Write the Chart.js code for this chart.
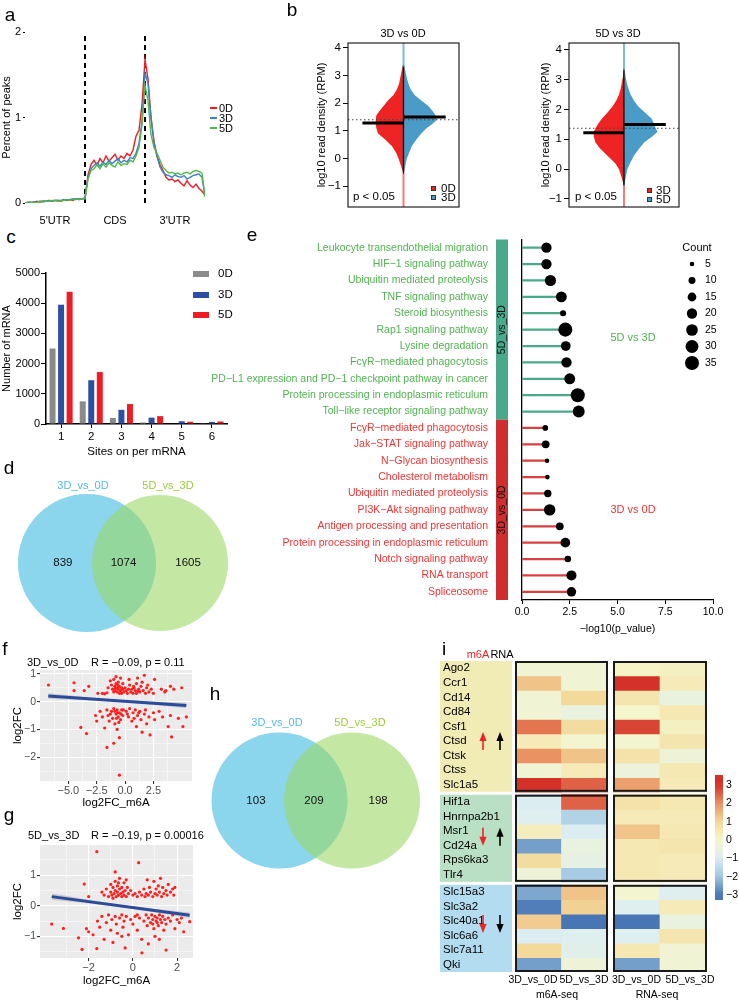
<!DOCTYPE html>
<html><head><meta charset="utf-8">
<script src="https://cdn.jsdelivr.net/npm/chart.js@4.4.1/dist/chart.umd.min.js"></script>
<style>
html,body{margin:0;padding:0;background:#fff;}
#root{position:relative;width:739px;height:1000px;overflow:hidden;font-family:"Liberation Sans",Arial,sans-serif;}
#root canvas{position:absolute;}
.t{position:absolute;white-space:nowrap;line-height:1;}
.sw{position:absolute;}
</style></head><body><div id="root"></div>
<script>
// ================= DATA =================
const regionLabels = ["5'UTR", 'CDS', "3'UTR"];
const aYTicks = [0, 1, 2];
const peak0D = [0.00,0.01,0.00,0.01,0.02,0.01,0.02,0.02,0.03,0.02,0.03,0.03,0.02,0.04,0.03,0.04,0.03,0.05,0.04,0.05,0.05,
  0.33,0.45,0.50,0.44,0.52,0.47,0.55,0.49,0.53,0.57,0.50,0.55,0.52,0.58,0.55,0.62,0.78,0.85,1.15,
  1.68,1.45,1.00,0.72,0.55,0.45,0.38,0.30,0.27,0.28,0.25,0.27,0.23,0.20,0.26,0.21,0.18,0.22,0.17,0.14,0.09];
const peak3D = [0.00,0.00,0.01,0.01,0.01,0.02,0.02,0.02,0.03,0.02,0.03,0.03,0.03,0.04,0.04,0.04,0.05,0.04,0.05,0.05,0.06,
  0.30,0.40,0.44,0.47,0.43,0.48,0.45,0.50,0.46,0.49,0.52,0.47,0.50,0.48,0.53,0.52,0.58,0.70,0.95,
  1.52,1.40,1.00,0.70,0.55,0.42,0.36,0.33,0.32,0.30,0.33,0.31,0.30,0.32,0.28,0.30,0.32,0.33,0.34,0.30,0.08];
const peak5D = [0.00,0.01,0.01,0.00,0.01,0.02,0.01,0.02,0.02,0.03,0.03,0.02,0.03,0.03,0.04,0.03,0.04,0.05,0.04,0.05,0.05,
  0.28,0.38,0.40,0.45,0.40,0.46,0.42,0.47,0.44,0.42,0.48,0.44,0.46,0.45,0.50,0.48,0.55,0.65,0.92,
  1.38,1.20,0.80,0.65,0.58,0.50,0.42,0.38,0.35,0.36,0.34,0.35,0.33,0.35,0.36,0.34,0.37,0.38,0.37,0.35,0.07];

const violinY = [-0.6,-0.3,0,0.2,0.45,0.7,0.9,1.1,1.25,1.4,1.55,1.7,1.9,2.1,2.3,2.5,2.7,2.9,3.1,3.4];
const v1_0D = [0,0.04,0.09,0.13,0.21,0.34,0.46,0.49,0.5,0.5,0.49,0.44,0.36,0.28,0.18,0.12,0.08,0.06,0.04,0.01];
const v1_3D = [0,0.03,0.06,0.1,0.15,0.24,0.32,0.42,0.52,0.6,0.58,0.53,0.45,0.32,0.2,0.13,0.09,0.06,0.04,0.01];
const v2_3D = [0,0.04,0.09,0.16,0.3,0.44,0.52,0.55,0.55,0.51,0.46,0.4,0.3,0.21,0.14,0.09,0.06,0.04,0.02,0.01];
const v2_5D = [0,0.03,0.06,0.11,0.18,0.28,0.37,0.52,0.61,0.57,0.54,0.5,0.38,0.26,0.18,0.12,0.08,0.05,0.03,0.01];
const bMedians1 = [1.28, 1.5];
const bMedians2 = [1.22, 1.5];
const bOverall = [1.4, 1.37];
const bYTicks = [-1, 0, 1, 2, 3, 4];

const siteLabels = ['1','2','3','4','5','6'];
const c0D = [2500, 750, 200, 50, 15, 10];
const c3D = [3950, 1450, 470, 210, 90, 70];
const c5D = [4380, 1720, 660, 260, 75, 85];

const dCounts = [839, 1074, 1605];
const hCounts = [103, 209, 198];
const vennSets = ['3D_vs_0D', '5D_vs_3D'];

const ePathways = ['Leukocyte transendothelial migration','HIF\u22121 signaling pathway','Ubiquitin mediated proteolysis','TNF signaling pathway','Steroid biosynthesis','Rap1 signaling pathway','Lysine degradation','Fc\u03b3R\u2212mediated phagocytosis','PD\u2212L1 expression and PD\u22121 checkpoint pathway in cancer','Protein processing in endoplasmic reticulum','Toll\u2212like receptor signaling pathway',
 'Fc\u03b3R\u2212mediated phagocytosis','Jak\u2212STAT signaling pathway','N\u2212Glycan biosynthesis','Cholesterol metabolism','Ubiquitin mediated proteolysis','PI3K\u2212Akt signaling pathway','Antigen processing and presentation','Protein processing in endoplasmic reticulum','Notch signaling pathway','RNA transport','Spliceosome'];
const ePval = [1.28,1.28,1.49,2.06,2.15,2.27,2.29,2.33,2.5,2.92,2.97, 1.22,1.24,1.31,1.33,1.35,1.45,1.98,2.27,2.4,2.59,2.59];
const eCount = [20,20,23,22,8,35,18,20,22,35,26, 7,12,5,5,11,24,12,18,9,19,17];
const eGroupSizes = [11, 11];
const eGroupTags = ['5D_vs_3D', '3D_vs_0D'];
const eGroupNames = ['5D vs 3D', '3D vs 0D'];
const eXTicks = [0, 2.5, 5, 7.5, 10];
const countLevels = [5, 10, 15, 20, 25, 30, 35];

const fPoints = [[-6.75,0.6],[-4.5,0.68],[-4.5,0.4],[-3.6,0.4],[-3.2,0.55],[-2.4,0.3],[-2.0,0.3],[-1.8,0.28],[-1.6,0.32],[-1.5,0.5],[-1.3,0.75],[-1.2,0.6],[-1.1,0.45],[-1.0,0.8],[-1.0,0.35],[-0.9,0.55],[-0.9,0.4],[-0.85,0.48],[-0.8,0.9],[-0.8,0.65],[-0.7,0.5],[-0.7,0.35],[-0.65,0.6],[-0.6,0.45],[-0.6,0.7],[-0.5,0.3],[-0.5,0.55],[-0.45,0.42],[-0.4,0.4],[-0.4,0.85],[-0.3,0.5],[-0.3,0.3],[-0.2,0.45],[-0.2,0.65],[-0.1,0.35],[0,0.5],[0.1,0.4],[0.2,0.3],[0.3,0.45],[0.35,0.8],[0.4,0.6],[0.5,0.35],[0.6,0.45],[0.7,0.3],[0.75,0.55],[0.8,0.5],[0.9,0.4],[1.0,0.65],[1.0,0.3],[1.1,0.85],[1.15,0.38],[1.2,0.45],[1.3,0.35],[1.4,0.55],[1.5,0.7],[1.6,0.4],[1.7,0.95],[1.8,0.3],[1.9,0.5],[2.0,0.6],[2.1,0.35],[2.3,0.45],[2.5,0.3],[2.6,0.8],[3.2,0.45],[3.5,0.35],[3.6,0.4],[4.0,0.55],[4.3,0.45],[5.0,0.5],
 [-2.6,-0.5],[-2.5,-0.7],[-2.2,-0.35],[-2.0,-0.55],[-1.8,-0.95],[-1.6,-0.3],[-1.5,-0.5],[-1.4,-0.7],[-1.2,-0.35],[-1.1,-0.6],[-1.0,-0.25],[-0.9,-0.8],[-0.8,-0.45],[-0.7,-0.3],[-0.7,-1.0],[-0.6,-0.55],[-0.5,-0.4],[-0.5,-1.3],[-0.4,-0.65],[-0.3,-0.3],[-0.2,-0.5],[0.1,-0.35],[0.3,-0.55],[0.4,-0.25],[0.6,-0.7],[0.7,-0.4],[0.9,-0.3],[1.0,-0.9],[1.1,-0.5],[1.3,-0.35],[1.4,-0.65],[1.5,-1.1],[1.7,-0.45],[1.8,-0.3],[1.9,-0.8],[2.1,-0.55],[2.2,-1.2],[2.5,-0.4],[2.6,-0.65],[3.0,-0.35],[3.3,-0.55],[3.8,-0.9],[4.0,-0.5],[4.7,-0.6],[5.1,-0.9],[5.4,-0.55],[4.1,-1.27],[-3.9,-0.93],[-3.4,-1.15],[-1.6,-1.65],[-1.0,-1.5],[-0.5,-2.65],[-0.9,-0.35],[-0.75,-0.6],[-0.55,-0.75],[-0.35,-0.45],[-0.15,-0.3],[-1.3,-0.45],[-0.65,-0.4],[0.2,-0.45],[0.8,-0.6],[1.2,-0.4]];
const fFitX = [-6.77, -0.7, 5.4];
const fFitY = [0.2, 0.03, -0.14];
const fBand = [0.1, 0.035, 0.1];
const fXTicks = [-5, -2.5, 0, 2.5];
const fXMinor = [-6.25, -3.75, -1.25, 1.25, 3.75];
const fYTicks = [-2, -1, 0, 1];
const fYMinor = [-2.5, -1.5, -0.5, 0.5];

const gPoints = [[-2.2,0.71],[-2.0,0.3],[-1.63,1.77],[0.26,1.41],[-0.8,1.11],[-1.3,0.35],[-1.2,0.55],[-1.1,0.3],[-1.0,0.45],[-1.0,0.7],[-0.95,0.35],[-0.9,0.6],[-0.85,0.4],[-0.8,0.5],[-0.8,0.8],[-0.75,0.3],[-0.7,0.45],[-0.7,0.65],[-0.65,0.35],[-0.6,0.55],[-0.6,0.9],[-0.55,0.4],[-0.5,0.3],[-0.5,0.6],[-0.45,0.45],[-0.4,0.75],[-0.4,0.35],[-0.35,0.5],[-0.3,0.3],[-0.25,0.6],[-0.2,0.4],[-0.1,0.5],[0.0,0.35],[0.1,0.4],[0.2,0.3],[0.3,0.45],[0.4,0.35],[0.5,0.55],[0.55,0.3],[0.6,0.4],[0.7,0.35],[0.75,0.6],[0.8,0.45],[0.9,0.3],[0.95,0.8],[1.0,0.4],[1.05,0.55],[1.1,0.35],[1.2,0.45],[1.25,0.9],[1.3,0.3],[1.35,0.6],[1.4,0.4],[1.5,0.5],[1.55,0.35],[1.6,0.7],[1.7,0.45],[1.8,0.55],[1.85,0.35],[1.9,0.6],[-1.4,0.45],[-0.9,0.25],[-0.65,0.75],[-0.3,0.85],[0.65,0.85],[1.15,0.65],
 [-3.67,-0.6],[-3.14,-0.74],[-2.46,-1.05],[-2.3,-1.43],[-1.63,-1.4],[-0.35,-1.38],[0.41,-1.54],[1.5,-1.45],[2.57,-0.52],[-2.1,-0.75],[-2.0,-0.85],[-1.8,-0.95],[-1.6,-0.5],[-1.5,-0.7],[-1.4,-0.35],[-1.3,-1.1],[-1.2,-0.55],[-1.1,-0.3],[-1.0,-0.8],[-0.95,-0.45],[-0.9,-1.2],[-0.8,-0.35],[-0.75,-0.6],[-0.7,-0.9],[-0.6,-0.4],[-0.5,-0.3],[-0.45,-0.7],[-0.4,-0.5],[-0.3,-0.35],[-0.2,-0.95],[-0.1,-0.45],[0.0,-0.6],[0.1,-0.35],[0.2,-0.8],[0.3,-0.4],[0.4,-1.1],[0.5,-0.5],[0.6,-0.3],[0.65,-0.65],[0.7,-0.4],[0.8,-0.55],[0.85,-0.3],[0.9,-0.45],[0.95,-0.75],[1.0,-0.35],[1.05,-0.5],[1.1,-0.4],[1.15,-0.65],[1.2,-0.3],[1.25,-0.45],[1.3,-0.55],[1.35,-0.35],[1.4,-0.8],[1.45,-0.45],[1.5,-0.6],[1.6,-0.4],[1.7,-0.5],[1.8,-0.3],[1.9,-0.75],[2.0,-0.45],[2.1,-0.55],[2.2,-0.4],[2.3,-0.85],[1.0,-1.0],[0.7,-1.25],[-0.5,-1.0],[1.2,-1.1],[0.2,-0.3],[0.9,-0.6],[1.1,-0.55]];
const gFitX = [-3.67, -0.55, 2.57];
const gFitY = [0.3, -0.005, -0.31];
const gBand = [0.1, 0.04, 0.09];
const gXTicks = [-2, 0, 2];
const gXMinor = [-3, -1, 1];
const gYTicks = [-1, 0, 1];
const gYMinor = [-1.5, -0.5, 0.5, 1.5];

const iGenes = ['Ago2','Ccr1','Cd14','Cd84','Csf1','Ctsd','Ctsk','Ctss','Slc1a5','Hif1a','Hnrnpa2b1','Msr1','Cd24a','Rps6ka3','Tlr4','Slc15a3','Slc3a2','Slc40a1','Slc6a6','Slc7a11','Qki'];
const iGroupSizes = [9, 6, 6];
const iCols = ['3D_vs_0D', '5D_vs_3D'];
const iBlocks = ['m6A-seq', 'RNA-seq'];
const m6A_3v0 = [-0.2,1.3,-0.2,-0.2,2.3,0.4,2.0,-0.2,3.3,-1.0,-0.9,0.3,-2.5,0.9,-0.3,-2.4,-2.9,1.2,-1.0,1.0,-2.5];
const m6A_5v3 = [-0.2,-0.2,1.0,-0.5,0.9,-0.1,1.3,0.4,2.5,2.5,-1.7,-1.0,-0.5,-0.6,-1.9,1.3,1.1,-3.0,-0.9,-0.8,-0.3];
const rna_3v0 = [0.1,3.2,0.6,0.0,2.8,-0.1,0.7,-0.4,1.8,0.7,0.4,1.3,0.5,0.5,0.5,-0.1,-0.9,-3.0,-0.9,0.5,-2.5];
const rna_5v3 = [0.2,0.4,-0.5,0.5,0.2,0.6,-0.3,0.5,0.4,0.5,0.4,0.5,0.6,0.4,0.4,-0.9,0.4,-0.5,0.6,-0.2,-0.2];
const iArrowDir = [['up','up'], ['down','up'], ['down','down']];
const cbTicks = [-3,-2,-1,0,1,2,3];

// ================= STYLE =================
const RED_A = '#ec1d25', BLUE_A = '#3e80c6', GREEN_A = '#4fb848';
const V_RED = '#ee2323', V_BLUE = '#4b9bc8';
const C_GRAY = '#8a8a8a', C_BLUE = '#2d4fa3', C_RED = '#ee1c24';
const E_GREEN = '#4aa98b', E_RED = '#cf2e2e', E_GT = '#52b152', E_RT = '#ee3535', E_LRED = '#d94040';
const HEAT_STOPS = [[-3,[72,118,180]],[-2,[160,199,224]],[-1,[220,237,242]],[0,[246,246,204]],[1,[243,217,154]],[2,[234,146,98]],[3,[212,50,41]]];

Chart.defaults.font.family = '"Liberation Sans", Arial, sans-serif';
Chart.defaults.font.size = 11;
Chart.defaults.color = '#000';
Chart.defaults.animation = false;
Chart.defaults.responsive = false;
Chart.defaults.devicePixelRatio = 1;
Chart.defaults.layout.autoPadding = false;
Chart.defaults.plugins.legend.display = false;
Chart.defaults.plugins.tooltip.enabled = false;

const root = document.getElementById('root');
function cv(x, y, w, h) {
  const c = document.createElement('canvas');
  c.width = w; c.height = h;
  Object.assign(c.style, {left: x + 'px', top: y + 'px', width: w + 'px', height: h + 'px'});
  root.appendChild(c); return c;
}
const texts = [];
function txt(s, x, y, o) { texts.push([s, x, y, o || {}]); }
function flushTexts() {
  texts.forEach(([s, x, y, o]) => {
    const d = document.createElement('div');
    d.className = 't'; d.textContent = s;
    d.style.left = x + 'px'; d.style.top = y + 'px';
    d.style.fontSize = (o.size || 11) + 'px'; d.style.color = o.color || '#000';
    const tx = o.align === 'center' ? '-50%' : o.align === 'right' ? '-100%' : '0';
    d.style.transform = 'translate(' + tx + ',-50%)' + (o.rot ? ' rotate(' + o.rot + 'deg)' : '');
    root.appendChild(d);
  });
}
function sw(x, y, w, h, color, border) {
  const d = document.createElement('div'); d.className = 'sw';
  Object.assign(d.style, {left: x + 'px', top: y + 'px', width: w + 'px', height: h + 'px', background: color, boxSizing: 'border-box'});
  if (border) d.style.border = border;
  root.appendChild(d);
}
const ticksAt = arr => s => { s.ticks = arr.map(v => ({value: v})); };
const fixW = w => s => { s.width = w; s.paddingTop = 0; s.paddingBottom = 0; };
const fixH = h => s => { s.height = h; };
const minus = v => String(v).replace('-', '\u2212');
const boxPlugin = {id: 'box', afterDraw(c) {
  const a = c.chartArea, x = c.ctx; x.save(); x.strokeStyle = '#222'; x.lineWidth = 1.2;
  x.strokeRect(a.left, a.top, a.right - a.left, a.bottom - a.top); x.restore(); }};
const ggBg = {id: 'ggbg', beforeDraw(c) {
  const a = c.chartArea, x = c.ctx; x.save(); x.fillStyle = '#ebebeb';
  x.fillRect(a.left, a.top, a.right - a.left, a.bottom - a.top); x.restore(); }};

function safe(fn) { try { fn(); } catch (e) { console.error(e); } }

// ================= (a) =================
safe(() => {
const aBins = peak0D.map((_, i) => i / 20);
const aLine = (arr, col) => ({data: arr.map((v, i) => ({x: aBins[i], y: v})), borderColor: col, borderWidth: 1.4, pointRadius: 0, tension: 0, fill: false});
new Chart(cv(0, 20, 215, 205), {
  type: 'line',
  data: {datasets: [
    aLine(peak5D, GREEN_A), aLine(peak3D, BLUE_A), aLine(peak0D, RED_A),
    {data: [{x: 1, y: 0}, {x: 1, y: 2}], borderColor: '#000', borderWidth: 2, borderDash: [5, 4], pointRadius: 0},
    {data: [{x: 2, y: 0}, {x: 2, y: 2}], borderColor: '#000', borderWidth: 2, borderDash: [5, 4], pointRadius: 0}
  ]},
  options: {
    layout: {padding: {top: 12, right: 10, left: 0, bottom: 0}},
    scales: {
      x: {type: 'linear', min: 0, max: 3, afterFit: fixH(22), afterBuildTicks: ticksAt([0.5, 1.5, 2.5]),
          ticks: {callback: (v, i) => regionLabels[i], padding: 3, maxRotation: 0, autoSkip: false}, grid: {display: false}, border: {display: false}},
      y: {min: 0, max: 2, afterFit: fixW(25), afterBuildTicks: ticksAt(aYTicks),
          ticks: {padding: 2}, grid: {drawOnChartArea: false, tickLength: 2, color: '#000'}, border: {display: false},
          title: {display: true, text: 'Percent of peaks', padding: {top: 0, bottom: 0}}}
    }
  }
});
});
[['0D', RED_A], ['3D', BLUE_A], ['5D', GREEN_A]].forEach(([l, c], k) => {
  sw(210, 108 + k * 10 - 1, 7, 2, c); txt(l, 219, 108 + k * 10, {});
});

// ================= (b) =================
function violin(cx, cy, o) {
  const poly = (ws, sign) => [{x: 0, y: violinY[0]}, ...violinY.map((y, i) => ({x: sign * ws[i], y})), {x: 0, y: violinY[violinY.length - 1]}, {x: 0, y: violinY[0]}];
  const seg = (pts, col, w, dash) => ({data: pts, showLine: true, borderColor: col, borderWidth: w, borderDash: dash || [], pointRadius: 0, fill: false});
  new Chart(cv(cx, cy, 165, 195), {
    type: 'scatter',
    data: {datasets: [
      seg([{x: -1, y: o.ref}, {x: 1, y: o.ref}], '#444', 1, [1.5, 2.5]),
      seg([{x: 0, y: o.min}, {x: 0, y: -0.55}], 'rgba(238,35,35,0.6)', 2),
      seg([{x: 0, y: 3.3}, {x: 0, y: o.max}], 'rgba(75,155,200,0.7)', 2),
      seg([{x: -0.74, y: o.med[0]}, {x: 0, y: o.med[0]}], '#000', 3),
      seg([{x: 0, y: o.med[1]}, {x: 0.76, y: o.med[1]}], '#000', 3),
      seg([{x: 0, y: -0.55}, {x: 0, y: 3.35}], '#000', 1.3),
      {data: poly(o.left, -1), showLine: true, borderWidth: 0, pointRadius: 0, fill: 'shape', backgroundColor: V_RED},
      {data: poly(o.right, 1), showLine: true, borderWidth: 0, pointRadius: 0, fill: 'shape', backgroundColor: V_BLUE}
    ]},
    options: {
      layout: {padding: {top: 23, right: 6, left: 0, bottom: 8}},
      scales: {
        x: {type: 'linear', min: -1, max: 1, display: false},
        y: {min: o.min, max: o.max, afterFit: fixW(o.yW), afterBuildTicks: ticksAt(bYTicks),
            ticks: {padding: 2, callback: v => minus(v), font: {size: 11.5}}, grid: {drawOnChartArea: false, tickLength: 5, color: '#000'}, border: {display: false},
            title: {display: true, text: 'log10 read density (RPM)', padding: {top: o.tPad, bottom: 0}, font: {size: 11}}}
      }
    },
    plugins: [boxPlugin]
  });
}
safe(() => violin(300, 20, {min: -1.76, max: 4.18, yW: 48, tPad: 15.4, left: v1_0D, right: v1_3D, med: bMedians1, ref: bOverall[0]}));
safe(() => violin(520, 20, {min: -1.27, max: 4.23, yW: 49, tPad: 19.4, left: v2_3D, right: v2_5D, med: bMedians2, ref: bOverall[1]}));
txt('3D vs 0D', 403, 33, {align: 'center'});
txt('5D vs 3D', 618, 33, {align: 'center'});
txt('p < 0.05', 353, 197, {size: 11.5});
txt('p < 0.05', 575, 197, {size: 11.5});
sw(431, 186, 5, 5, V_RED, '0.8px solid #333'); txt('0D', 441, 188.5, {size: 11.5});
sw(431, 195, 5, 5, V_BLUE, '0.8px solid #333'); txt('3D', 441, 197.5, {size: 11.5});
sw(647, 188, 5, 5, V_RED, '0.8px solid #333'); txt('3D', 656, 190.5, {size: 11.5});
sw(647, 197, 5, 5, V_BLUE, '0.8px solid #333'); txt('5D', 656, 199.5, {size: 11.5});

// ================= (c) =================
safe(() => {
new Chart(cv(0, 262, 235, 197), {
  type: 'bar',
  data: {labels: siteLabels, datasets: [
    {data: c0D, backgroundColor: C_GRAY}, {data: c3D, backgroundColor: C_BLUE}, {data: c5D, backgroundColor: C_RED}
  ]},
  options: {
    datasets: {bar: {categoryPercentage: 0.85, barPercentage: 0.7}},
    layout: {padding: {top: 11, right: 8, left: 0, bottom: 0}},
    scales: {
      x: {afterFit: fixH(35), grid: {offset: false, drawOnChartArea: false, tickLength: 4, color: '#000'}, border: {color: '#000', width: 1.5},
          ticks: {padding: 2, font: {size: 11.5}}, title: {display: true, text: 'Sites on per mRNA', padding: {top: 4, bottom: 0}, font: {size: 11.5}}},
      y: {min: 0, max: 5000, afterFit: fixW(46), ticks: {stepSize: 1000, padding: 1, font: {size: 11}, callback: v => String(v)},
          grid: {drawOnChartArea: false, tickLength: 5, color: '#000'}, border: {color: '#000', width: 1.5},
          title: {display: true, text: 'Number of mRNA', padding: {top: 0, bottom: 0}, font: {size: 11}}}
    }
  }
});
});
[['0D', C_GRAY], ['3D', C_BLUE], ['5D', C_RED]].forEach(([l, c], k) => {
  const y = [274, 295, 315][k]; sw(193, y - 3, 16, 6, c); txt(l, 218, y, {size: 11.5});
});

// ================= (d) & (h) Venn =================
function venn(cx, cy, cw, ch, midX, unit, centerY, radii, counts, numX) {
  const labelPlugin = {id: 'vennNums', afterDatasetsDraw(c) {
    const x = c.ctx; x.save(); x.fillStyle = '#111'; x.font = '11.5px "Liberation Sans", Arial'; x.textAlign = 'center'; x.textBaseline = 'middle';
    counts.forEach((n, i) => x.fillText(String(n), c.scales.x.getPixelForValue(numX[i]), c.scales.y.getPixelForValue(0)));
    x.restore(); }};
  new Chart(cv(cx, cy, cw, ch), {
    type: 'bubble',
    data: {datasets: [{data: [{x: -1, y: 0, r: radii[0]}, {x: 1, y: 0, r: radii[1]}], clip: false,
      backgroundColor: ['rgb(139,213,237)', 'rgba(154,216,98,0.59)'], borderWidth: 0}]},
    options: {layout: {padding: 0, autoPadding: false}, scales: {
      x: {display: false, min: (cx - midX) / unit, max: (cx + cw - midX) / unit},
      y: {display: false, min: -(cy + ch - centerY) / unit, max: (centerY - cy) / unit}}},
    plugins: [labelPlugin]
  });
}
safe(() => venn(0, 488, 240, 152, 123.5, 36.5, 563, [69, 68], dCounts, [-1.66, 0, 1.77]));
safe(() => venn(205, 725, 215, 155, 315.75, 36.25, 800.5, [68, 68], hCounts, [-1.65, -0.05, 1.72]));
txt(vennSets[0], 83, 485, {align: 'center', color: '#56b9e8', size: 11});
txt(vennSets[1], 168, 485, {align: 'center', color: '#9acb3c', size: 11});
txt(vennSets[0], 277, 722, {align: 'center', color: '#56b9e8', size: 11});
txt(vennSets[1], 360, 722, {align: 'center', color: '#9acb3c', size: 11});

// ================= (e) =================
const rCount = c => 1.28 * Math.sqrt(c) - 0.56;
const stripPlugin = {id: 'strip', afterDraw(c) {
  const x = c.ctx, a = c.chartArea, n = ePathways.length, rh = (a.bottom - a.top) / n;
  let start = 0;
  eGroupSizes.forEach((g, k) => {
    const t = a.top + start * rh, b = a.top + (start + g) * rh;
    x.fillStyle = k === 0 ? E_GREEN : E_RED; x.fillRect(296, t, 12, b - t);
    x.save(); x.translate(302.5, (t + b) / 2); x.rotate(-Math.PI / 2);
    x.fillStyle = '#111'; x.font = '10.5px "Liberation Sans", Arial'; x.textAlign = 'center'; x.textBaseline = 'middle';
    x.fillText(eGroupTags[k], 0, 0); x.restore();
    x.save(); x.fillStyle = k === 0 ? E_GT : E_RT; x.font = '11px "Liberation Sans", Arial'; x.textAlign = 'center'; x.textBaseline = 'middle';
    x.fillText(eGroupNames[k], 433, (t + b) / 2 + (k === 0 ? 8 : 0)); x.restore();
    start += g;
  });
}};
safe(() => {
new Chart(cv(200, 225, 539, 410), {
  type: 'bar',
  data: {labels: ePathways, datasets: [
    {type: 'bubble', data: ePathways.map((p, i) => ({x: ePval[i], y: p, r: rCount(eCount[i])})), backgroundColor: '#000', borderWidth: 0, order: 0},
    {type: 'bar', data: ePval, backgroundColor: ePathways.map((_, i) => i < eGroupSizes[0] ? E_GREEN : E_LRED), barThickness: 1.6, order: 1}
  ]},
  options: {
    indexAxis: 'y',
    layout: {padding: {top: 14.5, right: 26, left: 0, bottom: 0}},
    scales: {
      y: {type: 'category', offset: true, afterFit: fixW(322), grid: {display: false, drawTicks: false},
          border: {display: true, color: '#000', width: 1.3},
          ticks: {padding: 34, autoSkip: false, font: {size: 10.5}, color: c => c.index < eGroupSizes[0] ? E_GT : E_RT}},
      x: {type: 'linear', min: 0, max: 10, afterBuildTicks: ticksAt(eXTicks), afterFit: fixH(35),
          grid: {drawOnChartArea: false, tickLength: 4, color: '#000'}, border: {color: '#000', width: 1.3},
          ticks: {callback: v => v.toFixed(1), padding: 2, maxRotation: 0, autoSkip: false, font: {size: 10.5}},
          title: {display: true, text: '\u2212log10(p_value)', padding: {top: -1, bottom: 0}, font: {size: 10.5}}}
    }
  },
  plugins: [stripPlugin]
});
});
safe(() => {
new Chart(cv(680, 248, 59, 130), {
  type: 'bubble',
  data: {datasets: [{data: countLevels.map(c => ({x: 0.5, y: String(c), r: rCount(c)})), backgroundColor: '#000', borderWidth: 0, clip: false}]},
  options: {
    layout: {padding: {left: 4, top: 7.75, bottom: 6.75, right: 0}},
    scales: {
      x: {display: false, min: 0, max: 1},
      y: {type: 'category', labels: countLevels.map(String), position: 'right', offset: true, afterFit: fixW(39),
          grid: {display: false, drawTicks: false}, border: {display: false}, ticks: {padding: 5, font: {size: 10.5}}}
    }
  }
});
});
txt('Count', 697, 247, {align: 'center', size: 11});

// ================= (f) & (g) =================
function ggScatter(cx, cy, cw, ch, o) {
  const isMajX = v => o.xMaj.includes(v), isMajY = v => o.yMaj.includes(v);
  const hi = o.fitX.map((x, i) => ({x, y: o.fitY[i] + o.band[i]}));
  const lo = o.fitX.map((x, i) => ({x, y: o.fitY[i] - o.band[i]}));
  new Chart(cv(cx, cy, cw, ch), {
    type: 'scatter',
    data: {datasets: [
      {data: hi, showLine: true, borderWidth: 0, pointRadius: 0, fill: '+1', backgroundColor: 'rgba(150,150,150,0.4)', tension: 0.4, order: 3},
      {data: lo, showLine: true, borderWidth: 0, pointRadius: 0, fill: false, tension: 0.4, order: 3},
      {data: o.pts.map(p => ({x: p[0], y: p[1]})), pointRadius: 1.6, pointBackgroundColor: '#ff1f1f', pointBorderWidth: 0, order: 2},
      {data: [{x: o.fitX[0], y: o.fitY[0]}, {x: o.fitX[2], y: o.fitY[2]}], showLine: true, borderColor: '#2d4b9b', borderWidth: 3, pointRadius: 0, order: 1}
    ]},
    options: {
      layout: {padding: {top: o.padTop, right: o.padRight, left: 0, bottom: 0}},
      scales: {
        x: {type: 'linear', min: o.xr[0], max: o.xr[1], afterBuildTicks: ticksAt(o.xMaj.concat(o.xMin)), afterFit: fixH(o.xH),
            grid: {color: '#fff', lineWidth: c => isMajX(c.tick.value) ? 1.1 : 0.5, tickColor: c => isMajX(c.tick.value) ? '#333' : 'rgba(0,0,0,0)', tickLength: 3},
            border: {display: false},
            ticks: {color: '#4d4d4d', callback: v => isMajX(v) ? minus(o.xFmt(v)) : '', padding: 0, maxRotation: 0, autoSkip: false, font: {size: 11}},
            title: {display: true, text: 'log2FC_m6A', padding: {top: -1, bottom: 0}, font: {size: 11.5}}},
        y: {type: 'linear', min: o.yr[0], max: o.yr[1], afterBuildTicks: ticksAt(o.yMaj.concat(o.yMin)), afterFit: fixW(40),
            grid: {color: '#fff', lineWidth: c => isMajY(c.tick.value) ? 1.1 : 0.5, tickColor: c => isMajY(c.tick.value) ? '#333' : 'rgba(0,0,0,0)', tickLength: 3},
            border: {display: false},
            ticks: {color: '#4d4d4d', callback: v => isMajY(v) ? minus(v) : '', padding: 1, autoSkip: false, font: {size: 10.5}},
            title: {display: true, text: 'log2FC', padding: {top: 11, bottom: 0}, font: {size: 11.5}}}
      }
    },
    plugins: [ggBg]
  });
}
safe(() => ggScatter(0, 665, 200, 145, {pts: fPoints, fitX: fFitX, fitY: fFitY, band: fBand, xr: [-7.5, 5.9], yr: [-2.86, 1.14],
  xMaj: fXTicks, xMin: fXMinor, yMaj: fYTicks, yMin: fYMinor, padTop: 5, padRight: 8, xH: 29, xFmt: v => v.toFixed(1)}));
safe(() => ggScatter(0, 838, 200, 150, {pts: gPoints, fitX: gFitX, fitY: gFitY, band: gBand, xr: [-4.2, 2.72], yr: [-1.71, 1.99],
  xMaj: gXTicks, xMin: gXMinor, yMaj: gYTicks, yMin: gYMinor, padTop: 7, padRight: 7, xH: 30, xFmt: v => String(v)}));
txt('3D_vs_0D', 27, 662, {size: 11});
txt('R = \u22120.09, p = 0.11', 91, 662, {size: 11});
txt('5D_vs_3D', 28, 835, {size: 11});
txt('R = \u22120.19, p = 0.00016', 91, 835, {size: 11});

// ================= (i) heatmap =================
const I_GAP = 0.2;
const iStart = []; const iSpans = [];
(() => { let y = 0; iGroupSizes.forEach(g => { iSpans.push([y, y + g]); for (let j = 0; j < g; j++) iStart.push(y + j); y += g + I_GAP; }); })();
const iMax = iSpans[iSpans.length - 1][1];
function hcol(v) {
  const s = HEAT_STOPS; if (v <= s[0][0]) return 'rgb(' + s[0][1] + ')';
  for (let k = 1; k < s.length; k++) if (v <= s[k][0]) {
    const t = (v - s[k - 1][0]) / (s[k][0] - s[k - 1][0]);
    const c = s[k - 1][1].map((a, j) => Math.round(a + (s[k][1][j] - a) * t));
    return 'rgb(' + c + ')';
  }
  return 'rgb(' + s[s.length - 1][1] + ')';
}
const blockBorders = {id: 'blocks', afterDatasetsDraw(c) {
  const x = c.ctx, a = c.chartArea, ys = c.scales.y; x.save(); x.strokeStyle = '#1a1a1a'; x.lineWidth = 2;
  iSpans.forEach(([s, e]) => { const t = ys.getPixelForValue(s), b = ys.getPixelForValue(e); x.strokeRect(a.left + 1, t + 1, a.right - a.left - 2, b - t - 2); });
  x.restore(); }};
const groupBg = {id: 'groupBg',
  beforeDraw(c) {
    const x = c.ctx, ys = c.scales.y, cols = ['#f1ecb5', '#b9e0c4', '#b3dcf0'];
    iSpans.forEach(([s, e], k) => { const t = ys.getPixelForValue(s), b = ys.getPixelForValue(e); x.fillStyle = cols[k]; x.fillRect(5, t, 72, b - t); });
  },
  afterDraw(c) {
    const x = c.ctx, ys = c.scales.y;
    const arrow = (px, py, dir, col) => {
      const sgn = dir === 'up' ? -1 : 1, tip = py + sgn * 9, tail = py - sgn * 9;
      x.save(); x.strokeStyle = col; x.fillStyle = col; x.lineWidth = 1.6;
      x.beginPath(); x.moveTo(px, tail); x.lineTo(px, tip - sgn * 6); x.stroke();
      x.beginPath(); x.moveTo(px, tip); x.lineTo(px - 3.6, tip - sgn * 9); x.lineTo(px + 3.6, tip - sgn * 9); x.closePath(); x.fill(); x.restore();
    };
    const centers = [5.5, 12.1, 18.1];
    iArrowDir.forEach((d, k) => { const py = ys.getPixelForValue(centers[k]); arrow(48, py, d[0], '#e8262a'); arrow(65, py, d[1], '#000'); });
  }};
function heat(cx, w, cols, withLabels, padL, padR, plugins) {
  const yScale = {type: 'linear', reverse: true, min: 0, max: iMax, display: withLabels,
    grid: {display: false, drawTicks: false}, border: {display: false}};
  if (withLabels) Object.assign(yScale, {afterFit: fixW(72), afterBuildTicks: ticksAt(iStart.map(v => v + 0.5)),
    ticks: {crossAlign: 'far', callback: (v, i) => iGenes[i], autoSkip: false, padding: 0, font: {size: 11.5}}});
  new Chart(cv(cx, 650, w, 350), {
    type: 'bar',
    data: {labels: iCols, datasets: iGenes.map((g, i) => ({
      data: cols.map(() => [iStart[i] - 0.02, iStart[i] + 1.02]),
      backgroundColor: cols.map(col => hcol(col[i]))
    }))},
    options: {
      datasets: {bar: {barPercentage: 1, categoryPercentage: 1, grouped: false, borderWidth: 0, borderSkipped: false}},
      layout: {padding: {left: padL, right: padR, top: 11, bottom: 28}},
      scales: {x: {display: false}, y: yScale}
    },
    plugins: plugins
  });
}
safe(() => heat(435, 175, [m6A_3v0, m6A_5v3], true, 8, 2, [blockBorders, groupBg]));
safe(() => heat(611, 100, [rna_3v0, rna_5v3], false, 2, 4, [blockBorders]));
[[533, iCols[0]], [584, iCols[1]], [636.5, iCols[0]], [690, iCols[1]]].forEach(([x, l]) => txt(l, x, 979, {align: 'center', size: 10.5}));
txt(iBlocks[0], 557, 994, {align: 'center', size: 10.5});
txt(iBlocks[1], 657, 994, {align: 'center', size: 10.5});
const CB_MIN = -3.27, CB_MAX = 3.55;
safe(() => {
new Chart(cv(710, 765, 29, 145), {
  type: 'bar',
  data: {labels: [''], datasets: [{data: [[CB_MIN, CB_MAX]], borderWidth: 0, barPercentage: 1, categoryPercentage: 1,
    backgroundColor: ctx => {
      const ch = ctx.chart, ys = ch.scales.y;
      if (!ch.chartArea || !ys) return '#ccc';
      const y0 = ys.getPixelForValue(CB_MAX), y1 = ys.getPixelForValue(CB_MIN);
      if (!isFinite(y0) || !isFinite(y1)) return '#ccc';
      const g = ch.ctx.createLinearGradient(0, y0, 0, y1);
      for (let k = 0; k <= 20; k++) { const v = CB_MAX - (CB_MAX - CB_MIN) * k / 20; g.addColorStop(k / 20, hcol(v)); }
      return g;
    }}]},
  options: {
    layout: {padding: {left: 5, top: 10, bottom: 10, right: 0}},
    scales: {
      x: {display: false},
      y: {position: 'right', min: CB_MIN, max: CB_MAX, afterFit: fixW(16), afterBuildTicks: ticksAt(cbTicks),
          grid: {display: false, drawTicks: false}, border: {display: false}, ticks: {padding: 3, callback: v => minus(v), font: {size: 10.5}}}
    }
  }
});
});
txt('m6A', 478, 654, {align: 'center', color: '#e8262a', size: 11});
txt('RNA', 502, 654, {align: 'center', size: 11});

// ================= panel letters =================
[['a', 10, 14], ['b', 292, 9], ['c', 11, 236], ['d', 9, 467], ['e', 252, 234], ['f', 5, 648], ['g', 9, 814], ['h', 215, 693], ['i', 444, 648]]
  .forEach(([l, x, y]) => txt(l, x, y, {align: 'center', size: 19}));
flushTexts();
</script></body></html>
